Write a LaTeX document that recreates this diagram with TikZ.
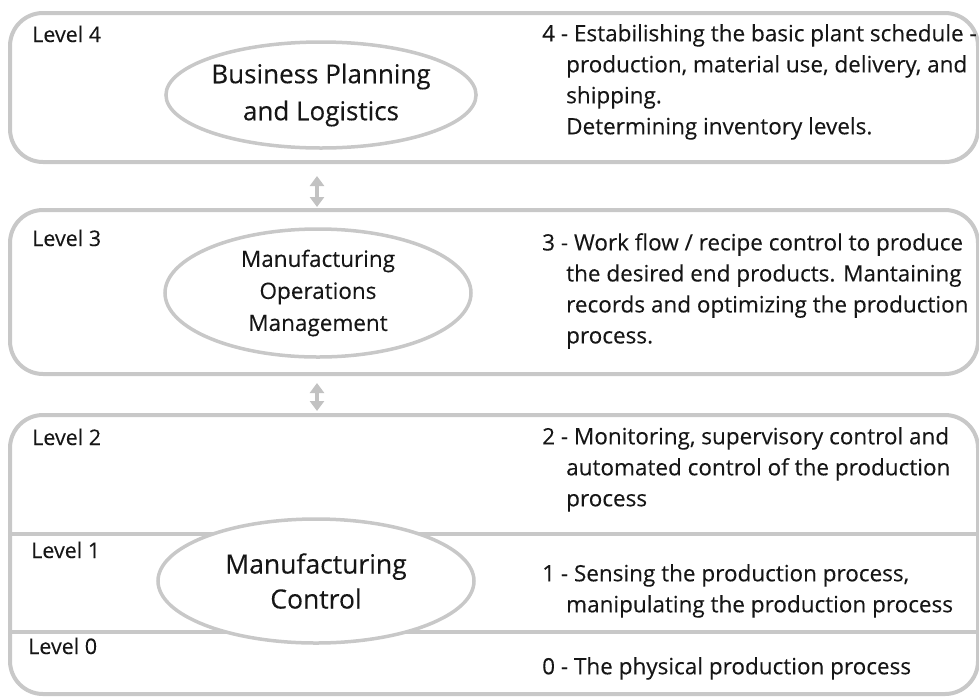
\documentclass[tikz,border=0pt]{standalone}
\usepackage{fontspec}
\setmainfont{Open Sans}[FakeBold=0.2]
\usetikzlibrary{shapes.geometric,arrows.meta}
\definecolor{edge}{HTML}{C8C8C8}
\definecolor{arr}{HTML}{C2C2C2}
\definecolor{ink}{HTML}{161616}
\newcommand\hind{\hspace*{24pt}}
\begin{document}
\begin{tikzpicture}[x=1pt,y=-1pt,
  levelbox/.style={draw=edge, line width=4pt, rounded corners=33pt},
  sepline/.style={draw=edge, line width=4pt},
  oval/.style={ellipse, draw=edge, line width=3.5pt, fill=white, inner sep=0pt, align=center, text=ink},
  lbl/.style={anchor=base west, inner sep=0pt, text=ink, font=\fontsize{21.5}{26}\selectfont},
  desc/.style={anchor=north west, inner sep=0pt, align=left, text=ink, font=\fontsize{22.5}{31}\selectfont},
  dbl/.style={draw=arr, line width=4pt, {Triangle[width=14pt,length=10pt]}-{Triangle[width=14pt,length=10pt]}}
]
\useasboundingbox[fill=white] (0,0) rectangle (979,697);

% level boxes
\draw[levelbox] (10,13) rectangle (978,162);
\draw[levelbox] (10,210) rectangle (978,374);
\draw[levelbox] (10,415) rectangle (978,694);
\draw[sepline] (8,534) -- (978,534);
\draw[sepline] (8,632) -- (978,632);

% ovals
\node[oval, minimum width=308pt, minimum height=106pt, font=\fontsize{26}{37}\selectfont] (bpl) at (321,95) {Business Planning\\and Logistics};
\node[oval, minimum width=306pt, minimum height=128pt, font=\fontsize{22.5}{32}\selectfont] (mom) at (318,293) {Manufacturing\\Operations\\Management};
\node[oval, minimum width=316pt, minimum height=124pt, font=\fontsize{26.5}{35}\selectfont] (mc) at (316,581) {Manufacturing\\Control};

% arrows
\coordinate (a1s) at (317,176);
\coordinate (a1e) at (317,207);
\coordinate (a2s) at (317,383);
\coordinate (a2e) at (317,411);
\draw[dbl] (a1s) -- (a1e);
\draw[dbl] (a2s) -- (a2e);

% level labels
\node[lbl] (l4) at (32,42) {Level 4};
\node[lbl] (l3) at (32,246) {Level 3};
\node[lbl] (l2) at (32,445) {Level 2};
\node[lbl] (l1) at (31,558) {Level 1};
\node[lbl] (l0) at (28,654) {Level 0};

% descriptions (north west = top of first line)
\node[desc] (d4) at (542,24) {4 - Estabilishing the basic plant schedule -\\\hind production, material use, delivery, and\\\hind shipping.\\\hind Determining inventory levels.};
\node[desc] (d3) at (542,233) {3 - Work flow / recipe control to produce\\\hind the desired end products. Mantaining\\\hind records and optimizing the production\\\hind process.};
\node[desc] (d2) at (542,427) {2 - Monitoring, supervisory control and\\\hind automated control of the production\\\hind process};
\node[desc] (d1) at (542,564) {1 - Sensing the production process,\\\hind manipulating the production process};
\node[desc] (d0) at (542,657) {0 - The physical production process};
\end{tikzpicture}
\end{document}
